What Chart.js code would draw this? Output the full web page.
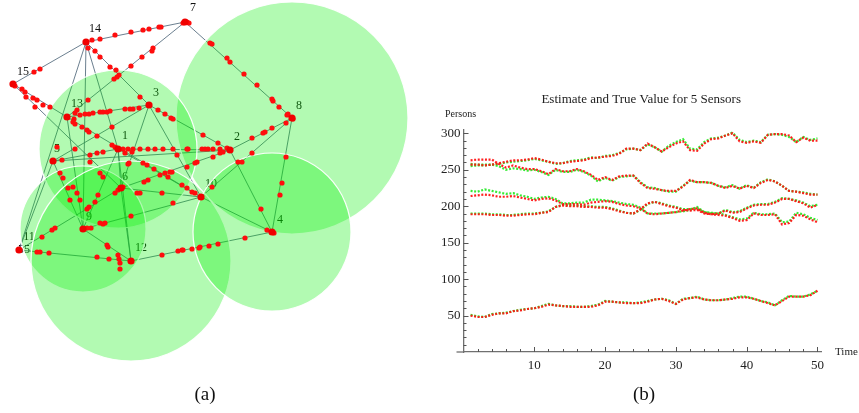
<!DOCTYPE html>
<html><head><meta charset="utf-8">
<script src="https://cdn.jsdelivr.net/npm/chart.js@4.4.1/dist/chart.umd.min.js"></script>
<style>
html,body{margin:0;padding:0;background:#fff;width:859px;height:413px;overflow:hidden}
#a{position:absolute;left:0;top:0}
#b{position:absolute;left:430px;top:0}
</style></head><body>
<canvas id="a" width="420" height="413"></canvas>
<canvas id="b" width="429" height="413"></canvas>
<script>
// ---------- Panel (a): sensor network ----------
const nodeNames = ['1','2','3','4','5','6','7','8','9','10','11','12','13','14','15'];
const nodeX = [118,230,149,272,53,121,185,292,83,201,19,131,67,86,13];
const nodeY = [149,150,105,232,161,188,22,118,229,197,250,261,117,42,84];

const labelText = ['7','14','15','13','3','8','1','2','5','6','10','9','4','12','11','55'];
const labelX = [193,95,23,77,156,299,125,237,57,125,211,89,280,141,29,24];
const labelY = [8,29,72,104,93,106,136,137,149,177,184,217,220,248,237,250];

const edges = [
  ['14','7'],['14','15'],['7','13'],['7','8'],['14','3'],['14','1'],['14','11'],['14','9'],
  ['15','13'],['15','6'],['13','3'],['13','10'],['13','9'],['3','5'],['3','6'],['3','10'],
  ['3','2'],['1','2'],['1','5'],['1','6'],['1','12'],['1','10'],['1','9'],['5','2'],['5','9'],
  ['5','11'],['6','2'],['6','10'],['6','11'],['6','12'],['9','10'],['9','12'],['11','12'],
  ['12','4'],['2','8'],['2','4'],['10','8'],['8','4'],['10','4']
];

const sensorNode = ['8','1','9','12','4'];
const sensorRange = [116,79,63,100,79];

const peopleX = [92,100,115,131,143,149,159,161,183,187,189,
  153,152,142,131,119,117,114,88, 88,95,100,110,116,140, 34,40, 15,
  22,25,33,37,43,50, 26,35, 75,77,74,
  80,85,89,93,100,103,107,110,125,130,133,139,
  73,75,82,87,89,97, 75,57,
  158,165,171,173,203,218,
  112,115,119,123,128,133,140,148,155,163,173,187,188,202,205,208,213,220,227, 125,132,
  62,90,97,103,177,187,195,197,213,220,223,
  252,263,265,272,286,287,293,
  210,212,227,230,244,257,272,273,279,288,
  286,282,280, 274,267, 238,242,261, 252,
  143,147,154,168,182,187,192,195,212,
  118,115,123, 144,148,160,165,170,172, 137,140,162, 128, 90,100,103,
  60,63,68,70, 73,77,80, 87,89,95,98, 100,103,105, 87,91, 173,131,
  42,52,55, 107,108,118,120, 37,40,49,97,109,119,120,
  162,178,182,183,192,199,200,209,218,245, 112,129];
const peopleY = [40,39,35,32,30,29,27,27,23,22,23,
  48,51,57,66,75,77,79,100, 48,51,57,67,70,97, 72,69, 86,
  89,92,98,100,105,107, 97,107, 113,110,119,
  115,114,114,113,112,112,112,111,109,109,109,108,
  122,124,127,130,132,136, 149,147,
  110,114,118,119,135,143,
  145,147,149,149,149,149,149,149,149,149,149,149,149,149,149,149,149,149,148, 153,152,
  160,155,153,152,155,167,163,162,157,153,152,
  138,133,132,128,123,115,119,
  43,44,58,62,74,85,99,101,107,114,
  157,183,195, 233,230, 162,162,209, 153,
  163,165,169,177,185,188,192,193,187,
  190,193,187, 182,180,175,173,172,172, 193,193,193, 164, 162,173,177,
  173,178,188,200, 187,193,200, 209,207,202,195, 223,224,223, 228,228, 203,216,
  237,230,228, 245,247,255,263, 252,252,253,257,259,259,269,
  255,251,250,250,249,248,247,246,244,238, 127,163];

const idx = n => nodeNames.indexOf(n);
const edgeSets = edges.map(e => ({
  type: 'line', order: 3,
  data: [{x: nodeX[idx(e[0])], y: nodeY[idx(e[0])]}, {x: nodeX[idx(e[1])], y: nodeY[idx(e[1])]}],
  borderColor: 'rgba(70,95,115,0.8)', borderWidth: 1, pointRadius: 0, showLine: true, fill: false, tension: 0
}));
const circleSet = {
  type: 'bubble', order: 2,
  data: sensorNode.map((n, i) => ({x: nodeX[idx(n)], y: nodeY[idx(n)], r: sensorRange[i]})),
  backgroundColor: 'rgba(0,240,0,0.3)', borderColor: 'rgba(255,255,255,0.95)', borderWidth: 1.2
};
const peopleSet = {
  type: 'scatter', order: 1,
  data: peopleX.map((x, i) => ({x: x, y: peopleY[i]})),
  backgroundColor: '#ff0d0d', borderColor: '#ff0d0d', borderWidth: 0, pointRadius: 2.6
};
const nodeSet = {
  type: 'scatter', order: 0,
  data: nodeX.map((x, i) => ({x: x, y: nodeY[i]})),
  backgroundColor: '#f00000', borderColor: '#e00000', borderWidth: 0, pointRadius: 3.6
};

const labelPlugin = {
  id: 'nodeLabels',
  beforeDatasetsDraw(chart) {
    const c = chart.ctx, sx = chart.scales.x, sy = chart.scales.y;
    c.save();
    c.font = '12px "Liberation Serif"';
    c.fillStyle = '#111';
    c.textAlign = 'center'; c.textBaseline = 'middle';
    labelText.forEach((t, i) => c.fillText(t, sx.getPixelForValue(labelX[i]), sy.getPixelForValue(labelY[i])));
    c.restore();
  },
  afterDraw(chart) {
    const c = chart.ctx;
    c.save();
    c.font = '19px "Liberation Serif"';
    c.fillStyle = '#111';
    c.textAlign = 'center'; c.textBaseline = 'middle';
    c.fillText('(a)', chart.scales.x.getPixelForValue(205), chart.scales.y.getPixelForValue(395));
    c.restore();
  }
};

new Chart(document.getElementById('a'), {
  type: 'scatter',
  data: {datasets: [nodeSet, peopleSet, circleSet, ...edgeSets]},
  options: {
    responsive: false, animation: false, devicePixelRatio: 1, events: [],
    layout: {padding: 0, autoPadding: false},
    plugins: {legend: {display: false}, tooltip: {enabled: false}},
    scales: {
      x: {type: 'linear', min: 0, max: 420, display: false},
      y: {type: 'linear', min: 0, max: 413, reverse: true, display: false}
    }
  },
  plugins: [labelPlugin]
});

// ---------- Panel (b): estimate and true value ----------
const time = [1,2,3,4,5,6,7,8,9,10,11,12,13,14,15,16,17,18,19,20,21,22,23,24,25,26,27,28,29,30,31,32,33,34,35,36,37,38,39,40,41,42,43,44,45,46,47,48,49,50];
const trueA = [255,256,256,257,258,260,261,262,263,265,263,261,258,259,262,263,264,267,266,269,270,273,278,279,277,285,281,275,283,288,292,279,278,288,293,294,297,301,291,288,290,288,298,299,298,295,288,295,291,293];
const estA  = [257,257,256,257,259,261,263,263,264,266,264,261,259,259,261,262,263,266,267,268,269,272,279,279,277,286,281,275,281,286,289,277,276,286,292,293,297,300,289,287,289,287,298,299,299,297,288,294,290,290];
const trueB = [258,257,257,257,255,250,252,251,249,250,247,243,250,247,247,250,247,242,234,239,235,240,241,242,233,226,225,222,220,220,228,235,233,233,232,228,226,229,224,229,225,233,237,234,228,221,220,219,217,216];
const estB  = [263,264,264,264,258,253,256,253,251,251,248,244,251,248,248,251,248,243,236,240,236,241,242,242,232,225,224,222,221,221,227,236,233,233,232,228,225,228,224,228,225,232,236,234,228,221,220,218,216,216];
const trueC = [221,220,223,221,219,217,218,215,213,210,212,213,210,204,204,205,205,209,209,208,207,205,203,202,198,190,190,190,191,192,193,195,199,192,190,190,195,192,193,198,202,203,203,206,211,210,208,205,200,202];
const estC  = [214,215,216,215,213,213,214,212,210,208,210,211,208,203,203,203,202,205,206,207,206,203,201,200,197,190,189,190,191,192,194,196,197,191,189,190,194,191,192,197,201,202,202,205,210,210,207,204,198,202];
const trueD = [190,190,190,189,189,188,188,189,190,190,191,193,199,202,201,201,200,200,199,199,197,194,191,190,195,203,206,204,201,199,196,196,197,192,191,190,188,185,182,183,191,189,189,190,178,179,191,189,184,181];
const estD  = [189,189,189,188,188,187,187,188,189,189,191,192,199,201,200,200,199,199,198,198,196,193,191,190,196,204,206,203,200,198,195,194,195,190,189,188,187,184,180,181,190,188,188,189,175,177,188,187,182,178];
const trueE = [51,49,48,52,53,54,56,58,59,60,63,66,64,63,63,62,62,63,65,70,69,68,68,67,68,70,72,73,71,66,73,74,76,72,71,71,72,74,76,76,73,70,68,64,71,77,76,76,79,84];
const estE  = [50,48,48,51,53,53,56,57,59,60,62,65,64,63,62,62,62,62,64,69,69,68,67,67,67,69,72,73,70,66,72,74,75,72,71,71,72,73,75,75,73,70,67,64,70,76,76,76,78,84];

const trueSeries = [trueA, trueB, trueC, trueD, trueE];
const estSeries = [estA, estB, estC, estD, estE];

const mk = (arr, color, order) => ({
  data: arr.map((v, i) => ({x: time[i], y: v})),
  borderColor: color, borderWidth: 2.2, borderDash: [2, 1.6],
  pointRadius: 0, tension: 0, fill: false, order: order
});
const lineSets = [
  ...estSeries.map(a => mk(a, 'rgba(255,20,20,0.95)', 0)),
  ...trueSeries.map(a => mk(a, 'rgba(40,235,40,0.95)', 1))
];

const serif = '"Liberation Serif"';
const axisPlugin = {
  id: 'mmaAxes',
  afterDraw(chart) {
    const c = chart.ctx, sx = chart.scales.x, sy = chart.scales.y;
    const x0 = sx.getPixelForValue(0), y0 = sy.getPixelForValue(0);
    c.save();
    c.strokeStyle = '#555'; c.lineWidth = 1;
    c.beginPath();
    for (let v = 10; v <= 300; v += 10) {
      const p = Math.round(sy.getPixelForValue(v)) + 0.5;
      const len = v % 50 === 0 ? 5 : 3;
      c.moveTo(x0, p); c.lineTo(x0 + len, p);
    }
    for (let t = 2; t <= 50; t += 2) {
      const p = Math.round(sx.getPixelForValue(t)) + 0.5;
      const len = t % 10 === 0 ? 5 : 3;
      c.moveTo(p, y0); c.lineTo(p, y0 - len);
    }
    c.stroke();
    c.strokeStyle = '#707070'; c.lineWidth = 1.3;
    c.beginPath(); c.moveTo(x0 - 7, y0); c.lineTo(x0, y0); c.stroke();
    c.fillStyle = '#222';
    c.textBaseline = 'middle';
    c.textAlign = 'center';
    c.font = '13px ' + serif;
    c.fillText('Estimate and True Value for 5 Sensors', sx.getPixelForValue(25.1), 100);
    c.textAlign = 'left';
    c.font = '10px ' + serif;
    c.fillText('Persons', 15, 114);
    c.font = '11px ' + serif;
    c.fillText('Time', sx.right + 14, y0);
    c.textAlign = 'center';
    c.font = '19px ' + serif;
    c.fillStyle = '#111';
    c.fillText('(b)', 214, 395);
    c.restore();
  }
};

new Chart(document.getElementById('b'), {
  type: 'line',
  data: {datasets: lineSets},
  options: {
    responsive: false, animation: false, devicePixelRatio: 1, events: [],
    layout: {padding: {top: 129.7, left: 0, right: 38, bottom: 30}, autoPadding: false},
    plugins: {legend: {display: false}, tooltip: {enabled: false}, title: {display: false}},
    scales: {
      x: {
        type: 'linear', min: 0, max: 50.5,
        afterFit(s) { s.height = 31; },
        grid: {display: false, drawTicks: false},
        border: {display: true, color: '#707070', width: 1.3},
        ticks: {stepSize: 10, padding: 6, color: '#222', maxRotation: 0, autoSkip: false, includeBounds: false,
          font: {family: 'Liberation Serif', size: 13},
          callback: v => (v > 0 && v % 10 === 0) ? String(v) : ''}
      },
      y: {
        type: 'linear', min: 0, max: 305,
        afterFit(s) { s.width = 33.5; },
        grid: {display: false, drawTicks: false},
        border: {display: true, color: '#707070', width: 1.3},
        ticks: {stepSize: 50, padding: 3, color: '#222', autoSkip: false, includeBounds: false,
          font: {family: 'Liberation Serif', size: 13},
          callback: v => (v > 0 && v % 50 === 0) ? String(v) : ''}
      }
    }
  },
  plugins: [axisPlugin]
});
</script>
</body></html>
